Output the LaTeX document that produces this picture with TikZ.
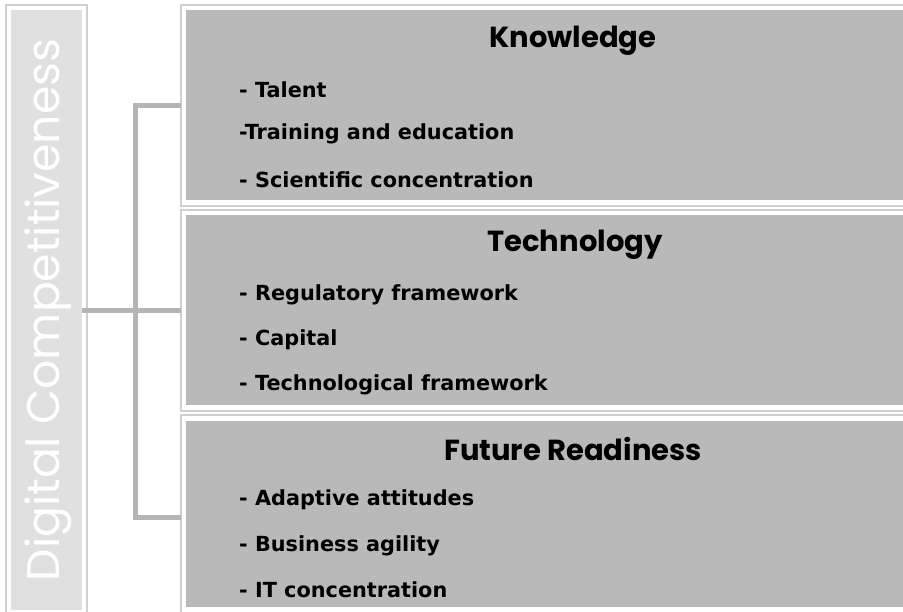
\documentclass[tikz,border=0pt]{standalone}
\usepackage{fontspec}
\setmainfont{DejaVu Sans}
\newfontfamily\titlefont{Poppins}
\newfontfamily\sidefont{Poppins}
\definecolor{sidefill}{HTML}{E0E0E0}
\definecolor{boxfill}{HTML}{B9B9B9}
\definecolor{edge}{HTML}{CFCFCF}
\definecolor{conncol}{HTML}{B5B5B5}
\begin{document}
\begin{tikzpicture}[x=1pt,y=-1pt,
  outerbox/.style={draw=edge,line width=1.5pt,fill=white},
  conn/.style={draw=conncol,line width=5pt},
  titletext/.style={font=\titlefont\bfseries\fontsize{29}{33}\selectfont,anchor=center},
  itemtext/.style={font=\bfseries\fontsize{20.8}{24}\selectfont,anchor=west,inner sep=0pt}]
\useasboundingbox (0,0) rectangle (903,612);
\clip (0,0) rectangle (903,612);
% side box
\draw[outerbox] (6,5) rectangle (87,620);
\node[fill=sidefill,minimum width=71pt,minimum height=600pt,inner sep=0pt] (L) at (46.5,310) {};
\node[rotate=90,text=white,font=\sidefont\fontsize{45.7}{50}\selectfont] (Lt) at (48,310) {Digital Competitiveness};
% right boxes
\draw[outerbox] (181,5) rectangle (920,206);
\draw[outerbox] (181,210) rectangle (920,411);
\draw[outerbox] (181,415) rectangle (920,620);
\node[fill=boxfill,minimum width=730pt,minimum height=190pt,inner sep=0pt,anchor=north west] (Kf) at (186,10) {};
\node[fill=boxfill,minimum width=730pt,minimum height=190pt,inner sep=0pt,anchor=north west] (Tf) at (186,215) {};
\node[fill=boxfill,minimum width=730pt,minimum height=186pt,inner sep=0pt,anchor=north west] (Ff) at (186,421) {};
\coordinate (K) at (181,105.5);
\coordinate (T) at (181,310.5);
\coordinate (F) at (181,517);
% connectors
\draw[conn] (L.east |- T) -- (T);
\draw[conn] (K) -- ++(-46,0) |- (F);
% titles
\node[titletext] (kt) at (573,41) {Knowledge};
\node[titletext] (tt) at (575,245) {Technology};
\node[titletext] (ft) at (573,449) {Future Readiness};
% items
\node[itemtext] (k1) at (239,90) {- Talent};
\node[itemtext] (k2) at (239,134) {-Training and education};
\node[itemtext] (k3) at (239,180) {- Scientific concentration};
\node[itemtext] (t1) at (239,295) {- Regulatory framework};
\node[itemtext] (t2) at (239,340) {- Capital};
\node[itemtext] (t3) at (239,385) {- Technological framework};
\node[itemtext] (f1) at (239,500) {- Adaptive attitudes};
\node[itemtext] (f2) at (239,546) {- Business agility};
\node[itemtext] (f3) at (239,590) {- IT concentration};
\end{tikzpicture}
\end{document}
